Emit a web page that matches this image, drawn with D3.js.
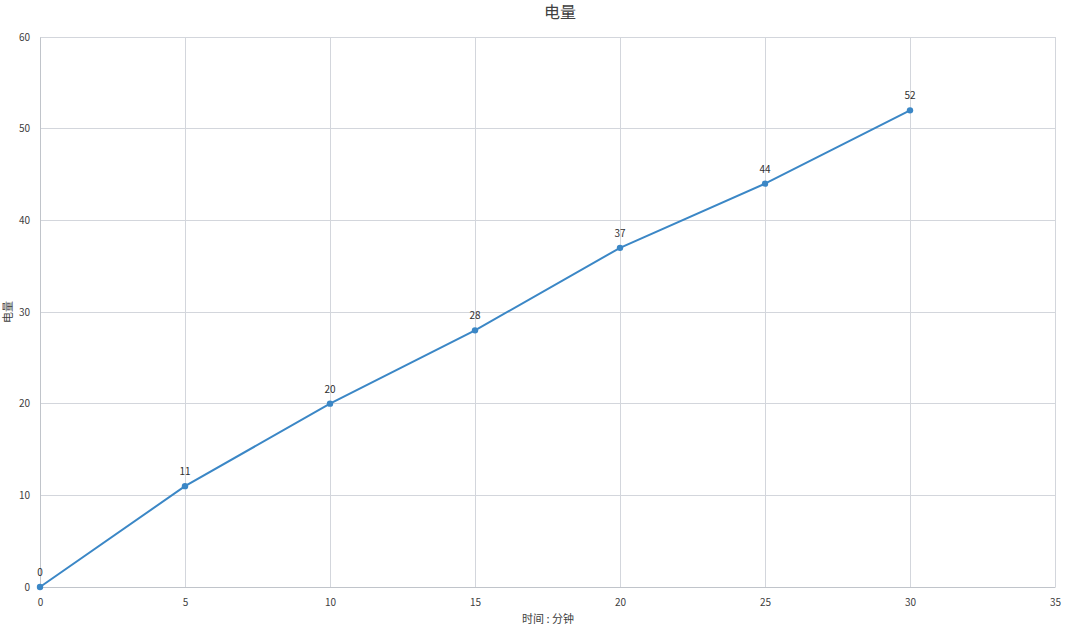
<!DOCTYPE html>
<html>
<head>
<meta charset="utf-8">
<script src="https://cdn.jsdelivr.net/npm/d3@7"></script>
<style>
  body { margin: 0; background: #fff; }
  text { font-family: "Noto Sans CJK SC", "Open Sans", sans-serif; }
</style>
</head>
<body>
<svg id="chart" width="1080" height="626"></svg>
<script>
// 数据
const minutes = [0, 5, 10, 15, 20, 25, 30];
const power = [0, 11, 20, 28, 37, 44, 52];
const xTicks = [0, 5, 10, 15, 20, 25, 30, 35];
const yTicks = [0, 10, 20, 30, 40, 50, 60];

const svg = d3.select("#chart");
const margin = {top: 37, right: 25, bottom: 39, left: 40};
const width = 1080 - margin.left - margin.right;
const height = 626 - margin.top - margin.bottom;

const x = d3.scaleLinear().domain([0, 35]).range([margin.left, margin.left + width]);
const y = d3.scaleLinear().domain([0, 60]).range([margin.top + height, margin.top]);

const gridColor = "#d3d6dc";
const textColor = "#404040";

// 网格
svg.append("g").selectAll("line").data(xTicks).enter().append("line")
    .attr("x1", d => x(d)).attr("x2", d => x(d))
    .attr("y1", y(0)).attr("y2", y(60))
    .attr("stroke", gridColor).attr("stroke-width", 1)
    .attr("shape-rendering", "crispEdges");

svg.append("g").selectAll("line").data(yTicks).enter().append("line")
    .attr("x1", x(0)).attr("x2", x(35))
    .attr("y1", d => y(d)).attr("y2", d => y(d))
    .attr("stroke", gridColor).attr("stroke-width", 1)
    .attr("shape-rendering", "crispEdges");

// 坐标轴
const xAxis = svg.append("g")
    .attr("transform", `translate(0,${y(0)})`)
    .call(d3.axisBottom(x).tickValues(xTicks).tickSize(0).tickPadding(12));
xAxis.select(".domain").attr("stroke", "#c0c4ca");
xAxis.selectAll("text").attr("font-size", 10).attr("fill", textColor);

const yAxis = svg.append("g")
    .attr("transform", `translate(${x(0)},0)`)
    .call(d3.axisLeft(y).tickValues(yTicks).tickSize(0).tickPadding(10));
yAxis.select(".domain").attr("stroke", "#c0c4ca");
yAxis.selectAll("text").attr("font-size", 10).attr("fill", textColor);

// 标题
svg.append("text")
    .attr("x", 560).attr("y", 18)
    .attr("text-anchor", "middle")
    .attr("font-size", 16).attr("fill", "#404040")
    .text("电量");

svg.append("text")
    .attr("x", 548).attr("y", 623)
    .attr("text-anchor", "middle")
    .attr("font-size", 11).attr("fill", textColor)
    .text("时间 : 分钟");

svg.append("text")
    .attr("transform", "translate(12,312) rotate(-90)")
    .attr("text-anchor", "middle")
    .attr("font-size", 11).attr("fill", textColor)
    .text("电量");

// 折线
const pts = minutes.map((m, i) => [m, power[i]]);
const line = d3.line().x(d => x(d[0])).y(d => y(d[1]));

svg.append("path")
    .datum(pts)
    .attr("d", line)
    .attr("fill", "none")
    .attr("stroke", "#3b87c6")
    .attr("stroke-width", 2);

svg.append("g").selectAll("circle").data(pts).enter().append("circle")
    .attr("cx", d => x(d[0])).attr("cy", d => y(d[1]))
    .attr("r", 3.2)
    .attr("fill", "#3b87c6");

svg.append("g").selectAll("text").data(pts).enter().append("text")
    .attr("x", d => x(d[0])).attr("y", d => y(d[1]) - 11)
    .attr("text-anchor", "middle")
    .attr("font-size", 10).attr("fill", "#303030")
    .text(d => d[1]);
</script>
</body>
</html>
